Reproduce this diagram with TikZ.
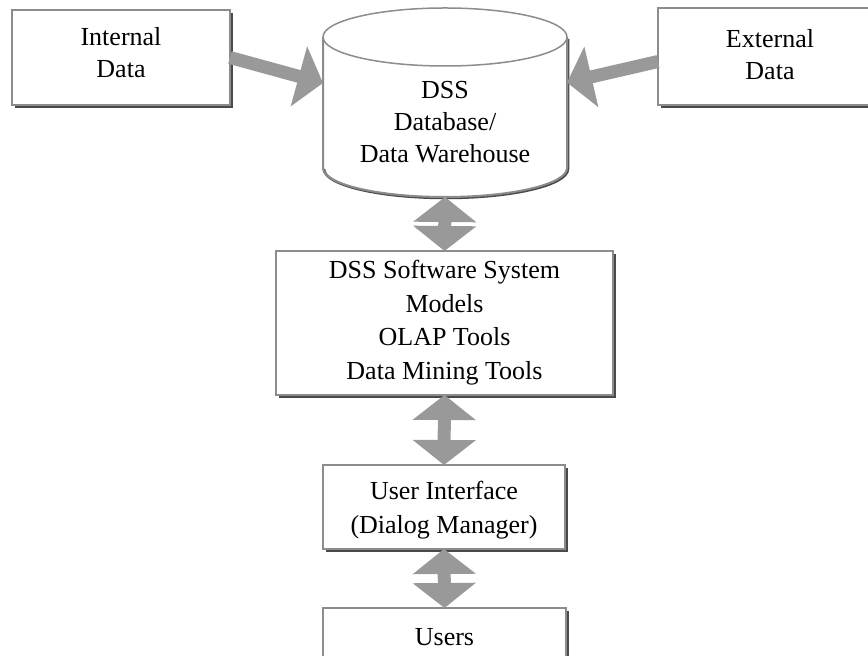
\documentclass[tikz,border=0pt]{standalone}
\usepackage{fontspec}
\setmainfont{Liberation Serif}
\usetikzlibrary{arrows.meta,calc}
\definecolor{arrgray}{HTML}{999999}
\definecolor{boxgray}{HTML}{8C8C8C}
\definecolor{shadegray}{HTML}{4A4A4A}
\tikzset{
  boxnode/.style={draw=boxgray, line width=2pt, fill=white, outer sep=0pt, inner sep=0pt},
  shadowline/.style={draw=shadegray, line width=2pt},
  txt/.style={align=center, inner sep=0pt, font=\fontsize{26}{32}\selectfont},
  bigarrow/.style={draw=arrgray, line width=13pt,
    -{Triangle[length=25pt,width=61pt,fill=arrgray,color=arrgray]}},
  dblarrow/.style={draw=arrgray, line width=13pt,
    {Triangle[length=25pt,width=62pt,fill=arrgray,color=arrgray]}-{Triangle[length=25pt,width=62pt,fill=arrgray,color=arrgray]}},
}
\begin{document}
\begin{tikzpicture}[x=1pt,y=1pt]
\useasboundingbox (0,0) rectangle (868,656);
% boxes
\node[boxnode, minimum width=218pt, minimum height=95pt] (intl) at (121,598.5) {};
\node[boxnode, minimum width=224pt, minimum height=97pt] (extl) at (770,599.5) {};
\node[boxnode, minimum width=337pt, minimum height=144pt] (soft) at (444.5,333) {};
\node[boxnode, minimum width=242pt, minimum height=84pt] (ui) at (444,149) {};
\node[boxnode, minimum width=243pt, minimum height=80pt] (users) at (444.5,8) {};
% shadows
\foreach \b in {intl,extl,soft,ui,users}{
  \draw[shadowline] ([shift={(3,-2)}]\b.south west) -- ([shift={(2,-2)}]\b.south east) -- ([shift={(2,-3)}]\b.north east);
}
% cylinder
\node[minimum width=244pt, minimum height=189pt, inner sep=0pt, outer sep=0pt] (cyl) at (445,553.5) {};
\fill[white] ([yshift=-29pt]cyl.north west) -- ([yshift=29pt]cyl.south west)
  arc[start angle=180, end angle=360, x radius=122pt, y radius=29pt]
  -- ([yshift=-29pt]cyl.north east)
  arc[start angle=0, end angle=180, x radius=122pt, y radius=29pt] -- cycle;
\draw[draw=shadegray, line width=2.5pt] ([shift={(1,-1)}]cyl.south west) ++(0,29pt)
  arc[start angle=180, end angle=360, x radius=122pt, y radius=29pt] -- ++(0,130pt);
\draw[draw=boxgray, line width=2pt] ([yshift=-29pt]cyl.north west) -- ([yshift=29pt]cyl.south west)
  arc[start angle=180, end angle=360, x radius=122pt, y radius=29pt]
  -- ([yshift=-29pt]cyl.north east);
\draw[draw=boxgray, line width=1.5pt] ([yshift=-29pt]cyl.north) ellipse[x radius=122pt, y radius=29pt];
% texts
\node[txt] (intltxt) at (121,603) {Internal\\Data};
\node[txt] (extltxt) at (770,601) {External\\Data};
\node[txt] (cyltxt) at (445,534) {DSS\\Database/\\Data Warehouse};
\node[txt, font=\fontsize{26}{33.5}\selectfont] (softtxt) at (444.5,333.5) {DSS Software System\\Models\\OLAP Tools\\Data Mining Tools};
\node[txt, font=\fontsize{26}{34}\selectfont] (uitxt) at (444,146) {User Interface\\(Dialog Manager)};
\node[txt] (userstxt) at (444.5,19) {Users};
% arrows
\draw[bigarrow] (intl.east) -- ([yshift=19.5pt]cyl.west);
\draw[bigarrow] ([yshift=-5pt]extl.west) -- ([yshift=20pt]cyl.east);
\draw[dblarrow] (cyl.south) -- (soft.north);
\draw[dblarrow] (soft.south) -- (ui.north);
\draw[dblarrow] (ui.south) -- (users.north);
\end{tikzpicture}
\end{document}
